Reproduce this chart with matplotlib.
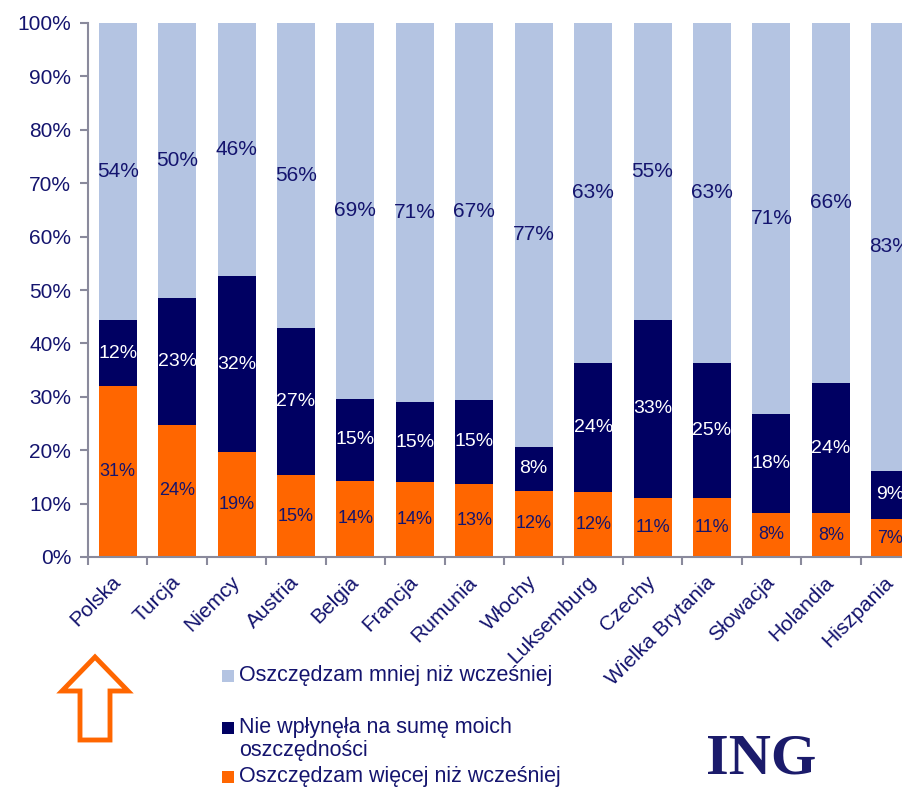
import matplotlib
matplotlib.use("Agg")
import matplotlib.pyplot as plt
from matplotlib.patches import Polygon, Rectangle

plt.rcParams["font.family"] = ["Liberation Sans", "DejaVu Sans"]

countries = ["Polska", "Turcja", "Niemcy", "Austria", "Belgia", "Francja", "Rumunia",
             "Włochy", "Luksemburg", "Czechy", "Wielka Brytania", "Słowacja",
             "Holandia", "Hiszpania"]
more = [31, 24, 19, 15, 14, 14, 13, 12, 12, 11, 11, 8, 8, 7]
same = [12, 23, 32, 27, 15, 15, 15, 8, 24, 33, 25, 18, 24, 9]
less = [54, 50, 46, 56, 69, 71, 67, 77, 63, 55, 63, 71, 66, 83]

series_names = ["Oszczędzam mniej niż wcześniej",
                "Nie wpłynęła na sumę moich\noszczędności",
                "Oszczędzam więcej niż wcześniej"]

LIGHT = "#b4c4e2"
NAVY = "#000062"
ORANGE = "#ff6600"
TEXT = "#14146e"
GRID = "#8a8a9c"

fig = plt.figure(figsize=(9.03, 7.89), dpi=100)
ax = fig.add_axes([88 / 903, 1 - 557 / 789, 832 / 903, 534 / 789])

x = list(range(len(countries)))
tot = [a + b + c for a, b, c in zip(more, same, less)]
p_more = [m / t * 100 for m, t in zip(more, tot)]
p_same = [s / t * 100 for s, t in zip(same, tot)]
p_less = [l / t * 100 for l, t in zip(less, tot)]
b2 = [a + b for a, b in zip(p_more, p_same)]

w = 0.64
ax.bar(x, p_more, width=w, color=ORANGE, edgecolor="none")
ax.bar(x, p_same, width=w, bottom=p_more, color=NAVY, edgecolor="none")
ax.bar(x, p_less, width=w, bottom=b2, color=LIGHT, edgecolor="none")

for i in x:
    ax.text(i, p_more[i] / 2, f"{more[i]}%", ha="center", va="center",
            color=TEXT, fontsize=13)
    ax.text(i, p_more[i] + p_same[i] / 2, f"{same[i]}%", ha="center", va="center",
            color="white", fontsize=14)
    ax.text(i, b2[i] + p_less[i] / 2, f"{less[i]}%", ha="center", va="center",
            color=TEXT, fontsize=15)

ax.set_xlim(-0.5, len(countries) - 0.5)
ax.set_ylim(0, 100)
ax.set_yticks(range(0, 101, 10))
ax.set_yticklabels([f"{v}%" for v in range(0, 101, 10)])
ax.set_xticks(x)
ax.set_xticklabels(countries, rotation=45, ha="right", va="center",
                   rotation_mode="anchor")
ax.set_xticks([i - 0.5 for i in range(len(countries) + 1)], minor=True)
ax.tick_params(axis="x", which="major", length=0, pad=16, labelsize=15, labelcolor=TEXT)
ax.tick_params(axis="x", which="minor", length=6, color=GRID, width=1.5)
ax.tick_params(axis="y", length=6, color=GRID, width=1.5, labelsize=15,
               labelcolor=TEXT, pad=6)
for s in ["top", "right"]:
    ax.spines[s].set_visible(False)
for s in ["left", "bottom"]:
    ax.spines[s].set_color(GRID)
    ax.spines[s].set_linewidth(1.5)

# legend drawn by hand to keep the uneven row spacing
W, H = 903, 789
rows = [(676, LIGHT), (728, NAVY), (777, ORANGE)]
for (y, col), name in zip(rows, series_names):
    fig.patches.append(Rectangle((222 / W, 1 - (y + 6) / H), 12 / W, 12 / H,
                                 transform=fig.transFigure, facecolor=col,
                                 edgecolor="none"))
    fig.text(239 / W, 1 - (y - 11) / H, name, ha="left", va="top",
             fontsize=15.5, color=TEXT, linespacing=1.15)

# orange arrow outline pointing at Polska
arrow = [(95, 657), (128, 691), (110, 691), (110, 740), (80, 740), (80, 691), (62, 691)]
fig.patches.append(Polygon([(px / W, 1 - py / H) for px, py in arrow], closed=True,
                           transform=fig.transFigure, facecolor="white",
                           edgecolor=ORANGE, linewidth=3.5))

fig.text(706 / W, 1 - 786 / H, "ING", family="Liberation Serif", weight="bold",
         fontsize=42, color="#1b1b6b", ha="left", va="bottom")

fig.savefig("out.png", dpi=100)
